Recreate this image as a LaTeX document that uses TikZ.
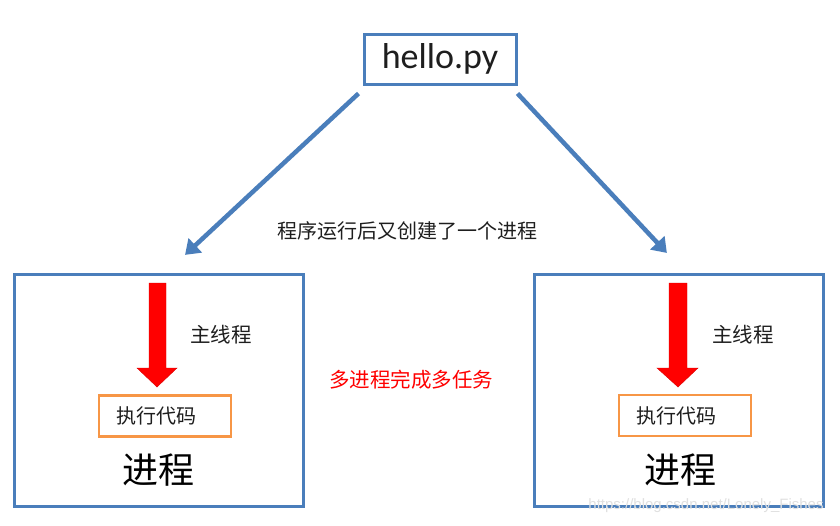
\documentclass[tikz,border=0pt]{standalone}
\usepackage{fontspec}
\setmainfont{Carlito}
\newfontfamily\cjk{Noto Sans CJK SC}
\newfontfamily\wmfont{Liberation Sans}
\usetikzlibrary{arrows.meta}
\definecolor{boxblue}{RGB}{74,126,187}
\definecolor{codeorange}{RGB}{247,150,70}
\definecolor{txt}{RGB}{30,30,30}
\tikzset{
  procbox/.style={draw=boxblue, line width=3pt, minimum width=289pt, minimum height=232pt, inner sep=0pt},
  filebox/.style={draw=boxblue, line width=3pt, minimum width=152pt, minimum height=50pt, inner sep=0pt, font=\fontsize{36}{36}\selectfont, text=txt},
  codebox/.style={draw=codeorange, line width=2.5pt, minimum width=132pt, minimum height=41pt, inner sep=0pt},
  cjktext/.style={font=\cjk\fontsize{20}{20}\selectfont, text=txt, inner sep=0pt},
  bigtext/.style={font=\cjk\fontsize{36}{36}\selectfont, text=black, inner sep=0pt},
  conn/.style={draw=boxblue, line width=4.5pt, -{Triangle[length=14pt,width=19pt]}, shorten >=-2pt},
  thread/.style={fill=red, draw=red!85!black, line width=0.4pt},
}
\begin{document}
\begin{tikzpicture}[x=1pt,y=-1pt]
\useasboundingbox (0,0) rectangle (840,525);
\fill[white] (0,0) rectangle (840,525);
% top file node
\node[filebox] (hello) at (440,59) {hello.py};
% process boxes
\node[procbox] (lbox) at (158.5,390) {};
\node[procbox] (rbox) at (678.5,390) {};
% connectors
\draw[conn] ([shift={(-4,8)}]hello.south west) -- ([shift={(174,-19)}]lbox.north west);
\draw[conn] ([shift={(0,8)}]hello.south east) -- ([shift={(133,-21)}]rbox.north west);
\node[cjktext] (created) at (407,231) {程序运行后又创建了一个进程};
% left process
\fill[thread] (149,283) -- (166,283) -- (166,368) -- (177,368) -- (157,387) -- (137,368) -- (149,368) -- cycle;
\node[cjktext, font=\cjk\fontsize{20.5}{20.5}\selectfont] (lmain) at (221,335) {主线程};
\node[codebox] (lcode) at (165,416) {};
\node[cjktext] (lcodet) at (156,416) {执行代码};
\node[bigtext] (lproc) at (158,470) {进程};
% right process
\fill[thread] (669,283) -- (687,283) -- (687,368) -- (698,368) -- (678,387) -- (657,368) -- (669,368) -- cycle;
\node[cjktext, font=\cjk\fontsize{20.5}{20.5}\selectfont] (rmain) at (743,335) {主线程};
\node[codebox] (rcode) at (685,415.5) {};
\node[cjktext] (rcodet) at (676,415.5) {执行代码};
\node[bigtext] (rproc) at (680,470) {进程};
% middle label
\node[cjktext, text=red, font=\cjk\fontsize{20.5}{20.5}\selectfont] (multi) at (411,380) {多进程完成多任务};
% watermark
\node[font=\wmfont\fontsize{15}{15}\selectfont, text=black!12, inner sep=0pt] (wm) at (706,506) {https://blog.csdn.net/Lonely\_Fishes};
\end{tikzpicture}
\end{document}
